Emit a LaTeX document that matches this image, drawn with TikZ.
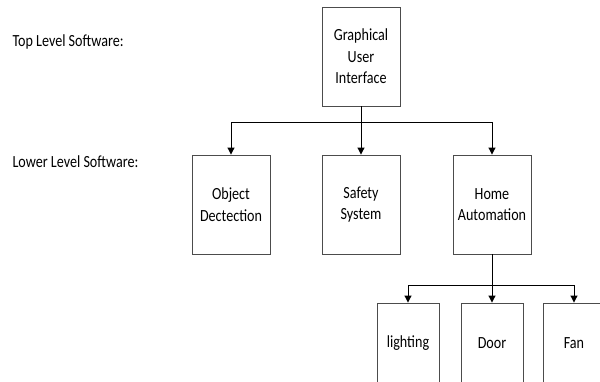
\documentclass[tikz,border=0pt]{standalone}
\usepackage{fontspec}
\setmainfont{Carlito}[FakeStretch=0.83]
\usetikzlibrary{arrows.meta}

\tikzset{
  swbox/.style={draw=black!70, line width=0.9pt, minimum width=78pt, minimum height=99pt,
    align=center, font=\fontsize{17}{21.5}\selectfont},
  subbox/.style={swbox, minimum width=62pt, minimum height=80pt},
  levellabel/.style={anchor=west, font=\fontsize{17}{20}\selectfont},
  link/.style={line width=1pt, -{Triangle[length=7pt,width=7pt]}}
}

\begin{document}
\begin{tikzpicture}[x=1pt,y=-1pt]
            \useasboundingbox (0,0) rectangle (600,382);
            \clip (0,0) rectangle (600,382);

            % level labels
            \node[levellabel] (toplabel) at (9,42) {Top Level Software:};
            \node[levellabel] (lowlabel) at (9,162) {Lower Level Software:};

            % boxes
            \node[swbox] (gui) at (361,56.5) {Graphical\\User\\Interface};
            \node[swbox] (objdet) at (231,204.5) {Object\\Dectection};
            \node[swbox] (safety) at (361,204.5) {Safety\\System};
            \node[swbox] (home) at (492,204.5) {Home\\Automation};
            \node[subbox] (light) at (408,343) {lighting};
            \node[subbox] (door) at (492,343) {Door};
            \node[subbox] (fan) at (574,343) {Fan};

            % connectors
            \coordinate (topbus) at (361,123);
            \coordinate (homebus) at (492,286);
            \draw[line width=1pt] (gui.south) -- (topbus);
            \draw[link] (topbus) -| (objdet.north);
            \draw[link] (topbus) -- (safety.north);
            \draw[link] (topbus) -| (home.north);
            \draw[line width=1pt] (home.south) -- (homebus);
            \draw[link] (homebus) -| (light.north);
            \draw[link] (homebus) -- (door.north);
            \draw[link] (homebus) -| (fan.north);
        \end{tikzpicture}
\end{document}
